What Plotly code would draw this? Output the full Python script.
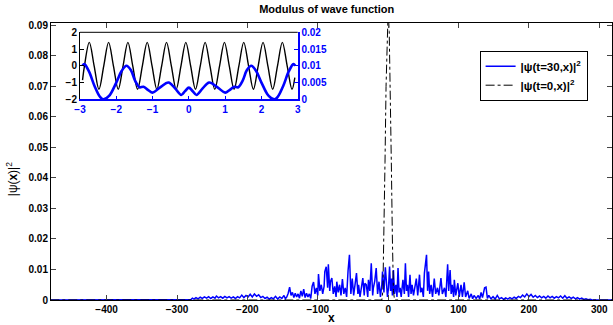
import plotly.graph_objects as go

# ---------------- main plot data ----------------
x_t30 = [-480, -290, -280, -278, -276, -273, -270, -267, -264, -261, -258, -255, -252, -249, -246, -244, -241,
         -238, -235, -232, -229, -226, -223, -220, -217, -214, -211, -208, -205, -202, -199, -196, -193, -190,
         -187, -184, -181, -178, -175, -172, -169, -166, -163, -160, -157, -154, -151, -148, -146, -144, -142,
         -140, -138, -136, -134, -132, -130, -128, -126, -124, -122, -120, -118, -116, -114, -112, -110, -108,
         -106, -104, -102, -100, -99, -97, -95, -93, -91, -90, -88, -86, -85, -83, -82, -80, -78, -76, -74, -73,
         -71, -69, -67, -65, -63, -61, -59, -57, -55, -53, -51, -49, -47, -45, -43, -42, -40, -38, -36, -34, -33,
         -31, -29, -28, -26, -24, -22, -21, -19, -17, -15, -13, -11, -9, -8, -6, -4, -2.5, -1, 0.5, 2, 3.5, 5, 6,
         7.5, 9, 11, 12.5, 14, 15.5, 17, 18.5, 21, 23, 24.5, 26, 27.5, 29, 31, 32.5, 34, 36, 38, 40, 42, 44.5, 46,
         48, 50, 51.5, 54.5, 56, 57.5, 59, 61, 63, 65.5, 67.5, 70, 72, 75, 77, 80, 82, 84.5, 86, 88, 89.5, 91, 93,
         94, 96, 99, 101, 103.5, 105.5, 108, 110, 113, 115, 118, 120, 122, 125, 128, 130, 132, 134, 137, 139, 141,
         143, 146, 149, 152, 155, 158, 161, 164, 167, 170, 173, 176, 179, 182, 185, 188, 191, 194, 197, 200, 203,
         206, 209, 212, 215, 218, 221, 224, 227, 230, 233, 236, 239, 242, 245, 248, 251, 254, 257, 260, 263, 266,
         269, 272, 275, 278, 281, 284, 287, 290, 318]
y_t30 = [0, 0, 0.0002, 0.0006, 0.0003, 0.0008, 0.0004, 0.0009, 0.0005, 0.0010, 0.0006, 0.0011, 0.0005, 0.0010,
         0.0006, 0.0013, 0.0007, 0.0011, 0.0006, 0.0012, 0.0007, 0.0011, 0.0006, 0.0010, 0.0005, 0.0011, 0.0007,
         0.0016, 0.0008, 0.0015, 0.0010, 0.0019, 0.0010, 0.0020, 0.0012, 0.0017, 0.0008, 0.0012, 0.0005, 0.0009,
         0.0003, 0.0008, 0.0004, 0.0012, 0.0003, 0.0010, 0.0005, 0.0015, 0.0004, 0.0010, 0.0022,
         0.0042, 0.0015, 0.0025, 0.0008, 0.0022, 0.0010, 0.0020, 0.0006, 0.0030, 0.0012, 0.0036, 0.0008, 0.0022,
         0.0010, 0.0020, 0.0005, 0.0045, 0.0059, 0.0020, 0.0040, 0.0015, 0.0085, 0.0030, 0.0050, 0.0020, 0.0045,
         0.0093, 0.0109, 0.0040, 0.0117, 0.0030, 0.0060, 0.0072, 0.0020, 0.0045, 0.0010, 0.0060, 0.0025, 0.0050,
         0.0015, 0.0069, 0.0020, 0.0040, 0.0010, 0.0095, 0.0148, 0.0020, 0.0070, 0.0015, 0.0050, 0.0088, 0.0020,
         0.0050, 0.0010, 0.0040, 0.0072, 0.0015, 0.0055, 0.0050, 0.0010, 0.0066, 0.0030, 0.0120, 0.0015, 0.0040,
         0.0063, 0.0105, 0.0020, 0.0060, 0.0010, 0.0050, 0.0093, 0.0025, 0.0107, 0.0060, 0.0010, 0.0040, 0.0110,
         0.0030, 0.0070, 0.0015, 0.0098, 0.0020, 0.0050, 0.0010, 0.0105, 0.0025, 0.0040, 0.0010, 0.0066, 0.0020,
         0.0120, 0.0030, 0.0050, 0.0010, 0.0083, 0.0020, 0.0050, 0.0015, 0.0040, 0.0070, 0.0015, 0.0083, 0.0025,
         0.0040, 0.0010, 0.0088, 0.0148, 0.0030, 0.0093, 0.0020, 0.0050, 0.0010, 0.0070, 0.0020, 0.0040, 0.0015,
         0.0072, 0.0020, 0.0040, 0.0010, 0.0117, 0.0030, 0.0098, 0.0020, 0.0050, 0.0010, 0.0066, 0.0015, 0.0055,
         0.0010, 0.0050, 0.0010, 0.0058, 0.0010, 0.0030, 0.0005, 0.0020, 0.0004, 0.0015, 0.0005, 0.0015, 0.0003,
         0.0025, 0.0008, 0.0040, 0.0042, 0.0005, 0.0015, 0.0004, 0.0011, 0.0003, 0.0015, 0.0004, 0.0008, 0.0002,
         0.0007, 0.0003, 0.0008, 0.0004, 0.0009, 0.0005, 0.0012, 0.0008, 0.0016, 0.0010, 0.0020, 0.0011, 0.0018,
         0.0009, 0.0015, 0.0008, 0.0013, 0.0007, 0.0012, 0.0006, 0.0013, 0.0007, 0.0012, 0.0006, 0.0011, 0.0007,
         0.0013, 0.0006, 0.0014, 0.0006, 0.0010, 0.0005, 0.0009, 0.0004, 0.0008, 0.0003, 0.0006, 0.0002, 0.0004,
         0.0001, 0.0002, 0, 0]

x_t0 = [-480, -9, -7.5, -6, -4.5, -3, -1.5, 0, 1.5, 3, 4.5, 6, 7.5, 9, 318]
y_t0 = [0, 0, 0.003, 0.020, 0.045, 0.070, 0.088, 0.095, 0.088, 0.070, 0.045, 0.020, 0.003, 0, 0]

main_xticks = [-400, -300, -200, -100, 0, 100, 200, 300]
main_yticks = [0, 0.01, 0.02, 0.03, 0.04, 0.05, 0.06, 0.07, 0.08, 0.09]
main_ytick_text = ["0", "0.01", "0.02", "0.03", "0.04", "0.05", "0.06", "0.07", "0.08", "0.09"]

# ---------------- inset data ----------------
x_re = [-2.93, -2.877, -2.744, -2.611, -2.478, -2.345, -2.212, -2.079, -1.946, -1.813, -1.68, -1.547, -1.414,
        -1.281, -1.148, -1.015, -0.882, -0.749, -0.616, -0.483, -0.35, -0.217, -0.084, 0.049, 0.182, 0.315,
        0.448, 0.581, 0.714, 0.847, 0.98, 1.113, 1.246, 1.379, 1.512, 1.645, 1.778, 1.911, 2.044, 2.177, 2.31,
        2.443, 2.576, 2.709, 2.842, 2.92]
y_re = [-0.85, 0, 1.4, 0, -1.4, 0, 1.4, 0, -1.4, 0, 1.4, 0, -1.4, 0, 1.4, 0, -1.4, 0, 1.4, 0, -1.4, 0, 1.4, 0,
        -1.4, 0, 1.4, 0, -1.4, 0, 1.4, 0, -1.4, 0, 1.4, 0, -1.4, 0, 1.4, 0, -1.4, 0, 1.4, 0, -1.4, -0.7]

x_abs = [-2.93, -2.88, -2.75, -2.6, -2.45, -2.36, -2.2, -2.0, -1.85, -1.72, -1.6, -1.48, -1.36, -1.25, -1.12,
         -1.0, -0.8, -0.56, -0.38, -0.21, -0.1, 0, 0.1, 0.21, 0.38, 0.56, 0.8, 1.0, 1.12, 1.25, 1.36, 1.48, 1.6,
         1.72, 1.85, 2.0, 2.2, 2.36, 2.45, 2.6, 2.75, 2.88, 2.93]
y_abs = [0.0100, 0.0105, 0.00825, 0.0040, 0.00075, 0.0, 0.0010, 0.0050, 0.0085, 0.0100, 0.00875, 0.0055, 0.0036,
         0.00375, 0.00275, 0.0020, 0.0035, 0.0050, 0.00325, 0.0013, 0.0025, 0.0035, 0.0025, 0.0013, 0.00325,
         0.0050, 0.0035, 0.0020, 0.00275, 0.00375, 0.0036, 0.0055, 0.00875, 0.0100, 0.0085, 0.0050, 0.0010, 0.0,
         0.00075, 0.0040, 0.00825, 0.0105, 0.0100]

inset_xticks = [-3, -2, -1, 0, 1, 2, 3]
inset_yticks_left = [-2, -1, 0, 1, 2]
inset_yticks_right = [0, 0.005, 0.01, 0.015, 0.02]
inset_ytick_right_text = ["0", "0.005", "0.01", "0.015", "0.02"]

FONT = "Liberation Sans, Arial, Helvetica, sans-serif"
BLUE = "#0000ff"

fig = go.Figure()
fig.add_trace(go.Scatter(x=x_t30, y=y_t30, mode="lines", line=dict(color=BLUE, width=1.5),
                         name="|ψ(t=30,x)|<sup>2</sup>", xaxis="x", yaxis="y"))
fig.add_trace(go.Scatter(x=x_t0, y=y_t0, mode="lines", line=dict(color="black", width=1, dash="dashdot"),
                         name="|ψ(t=0,x)|<sup>2</sup>", xaxis="x", yaxis="y"))
fig.add_trace(go.Scatter(x=x_re, y=y_re, mode="lines", line=dict(color="black", width=1.4, shape="spline"),
                         showlegend=False, xaxis="x2", yaxis="y2"))
fig.add_trace(go.Scatter(x=x_abs, y=y_abs, mode="lines", line=dict(color=BLUE, width=2.6, shape="spline"),
                         showlegend=False, xaxis="x2", yaxis="y3"))

tickfont = dict(family=FONT, size=10, color="black", weight="bold")
bluetick = dict(family=FONT, size=10, color=BLUE, weight="bold")

fig.update_layout(
    width=613, height=325,
    margin=dict(l=51, r=1, t=23, b=25, autoexpand=False),
    paper_bgcolor="white", plot_bgcolor="white",
    font=dict(family=FONT, size=10, color="black"),
    title=dict(text="<b>Modulus of wave function</b>", x=0.533, xanchor="center", y=0.972, yanchor="middle",
               font=dict(family=FONT, size=11, color="black")),
    showlegend=True,
    legend=dict(x=0.764, y=0.9, xanchor="left", yanchor="top", bgcolor="white", bordercolor="black",
                borderwidth=1, font=dict(family=FONT, size=11.5, color="black", weight="bold"),
                tracegroupgap=4, itemwidth=30),
    xaxis=dict(range=[-479, 318], tickvals=main_xticks, ticks="inside", ticklen=5, showline=True,
               linecolor="black", linewidth=1, mirror="ticks", showgrid=False, zeroline=False,
               tickfont=tickfont, automargin=False),
    yaxis=dict(range=[0, 0.0908], tickvals=main_yticks, ticktext=main_ytick_text, ticks="inside", ticklen=5,
               showline=True, linecolor="black", linewidth=1, mirror="ticks", showgrid=False, zeroline=False,
               tickfont=tickfont, automargin=False),
    xaxis2=dict(domain=[0.0517, 0.4398], anchor="y2", range=[-3, 3], tickvals=inset_xticks, ticks="inside",
                ticklen=4, tickcolor=BLUE, showline=True, linecolor=BLUE, linewidth=1.5, showgrid=False,
                zeroline=False, tickfont=bluetick, automargin=False),
    yaxis2=dict(domain=[0.7245, 0.9664], anchor="x2", range=[-2, 2], tickvals=inset_yticks_left,
                ticks="inside", ticklen=4, tickcolor="black", showline=True, linecolor="black", linewidth=1,
                showgrid=False, zeroline=False, tickfont=tickfont, automargin=False),
    yaxis3=dict(overlaying="y2", anchor="x2", side="right", range=[0, 0.02], tickvals=inset_yticks_right,
                ticktext=inset_ytick_right_text, ticks="inside", ticklen=4, tickcolor=BLUE, showline=True,
                linecolor=BLUE, linewidth=1.5, showgrid=False, zeroline=False, tickfont=bluetick,
                automargin=False),
    shapes=[dict(type="line", xref="x2 domain", yref="y2 domain", x0=0, x1=1, y0=1, y1=1,
                 line=dict(color="black", width=1))],
    annotations=[
        dict(text="<b>x</b>", xref="paper", yref="paper", x=0.4995, y=-0.065, xanchor="center",
             yanchor="middle", showarrow=False, font=dict(family=FONT, size=12, color="black")),
        dict(text="|ψ(<b>x</b>)|<sup>2</sup>", xref="paper", yref="paper", x=-0.07, y=0.435, textangle=-90,
             xanchor="center", yanchor="middle", showarrow=False, font=dict(family=FONT, size=12, color="black")),
    ],
)

fig.write_html("out.html", config={"displayModeBar": False},
               post_script="document.body.style.margin='0';document.body.style.padding='0';")
